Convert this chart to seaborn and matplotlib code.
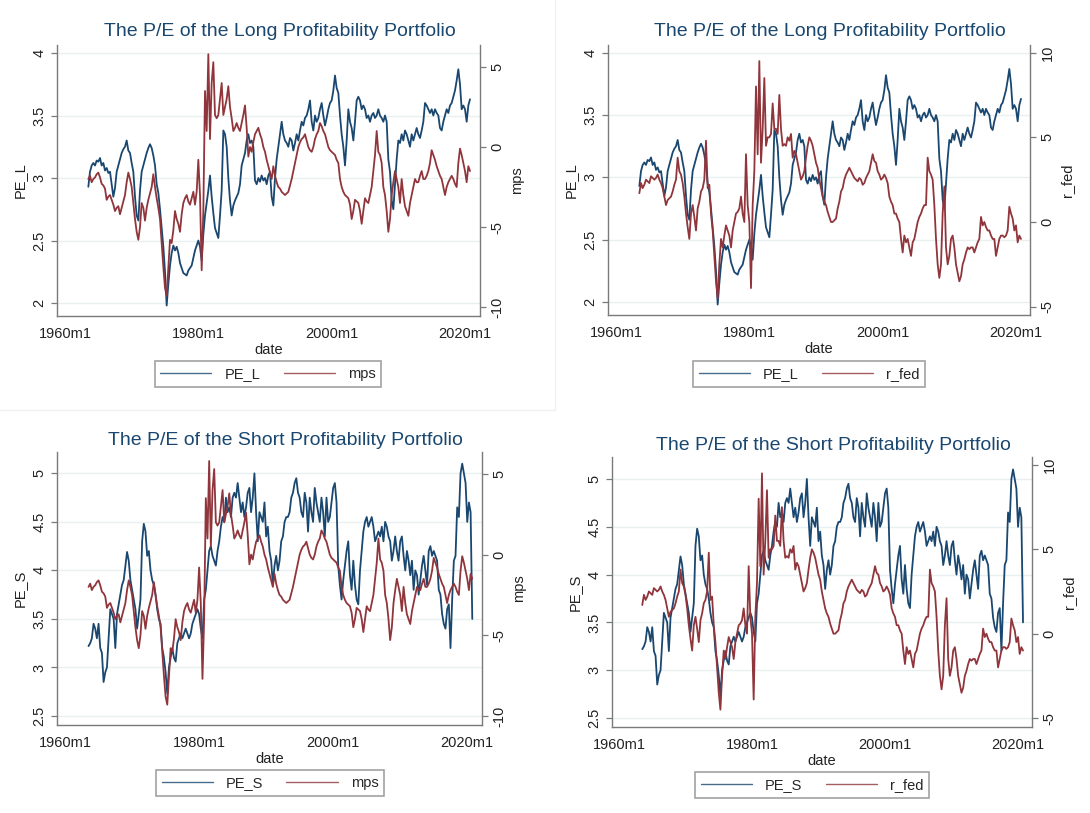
import numpy as np
import pandas as pd
import seaborn as sns
import matplotlib.pyplot as plt
from matplotlib.lines import Line2D

# quarterly dates 1963q3 .. 2020q4
dates = pd.date_range('1963-07-01', '2020-10-01', freq='QS')

PE_L = [2.93, 3.05,
        3.10, 3.12, 3.10, 3.14,   3.13, 3.16, 3.10, 3.12,   3.06, 3.08, 3.04, 3.05,
        2.95, 2.85, 2.92, 3.05,   3.10, 3.15, 3.20, 3.23,   3.25, 3.30, 3.22, 3.20,
        3.12, 3.05, 2.85, 2.70,   2.66, 2.90, 3.05, 3.10,   3.15, 3.20, 3.24, 3.27,
        3.24, 3.18, 3.10, 2.95,   2.88, 2.75, 2.60, 2.45,   2.25, 1.98, 2.15, 2.30,
        2.40, 2.46, 2.42, 2.45,   2.40, 2.32, 2.28, 2.24,   2.23, 2.22, 2.26, 2.28,
        2.30, 2.36, 2.42, 2.46,   2.50, 2.45, 2.34, 2.55,   2.70, 2.80, 2.90, 3.02,
        2.85, 2.72, 2.60, 2.56,   2.52, 2.70, 2.90, 3.38,   3.35, 3.25, 3.00, 2.82,
        2.70, 2.78, 2.82, 2.85,   2.88, 2.95, 3.10, 3.15,   3.20, 3.30, 3.35, 3.28,
        3.30, 3.25, 2.98, 2.95,   3.00, 2.97, 3.02, 2.98,   3.00, 2.95, 3.02, 3.05,
        2.85, 2.78, 3.00, 3.15,   3.25, 3.35, 3.45, 3.35,   3.30, 3.28, 3.25, 3.32,
        3.30, 3.22, 3.28, 3.35,   3.30, 3.38, 3.45, 3.42,   3.48, 3.50, 3.55, 3.62,
        3.45, 3.38, 3.50, 3.45,   3.48, 3.55, 3.60, 3.50,   3.42, 3.48, 3.55, 3.60,
        3.62, 3.70, 3.82, 3.72,   3.68, 3.50, 3.35, 3.25,   3.10, 3.30, 3.55, 3.45,
        3.40, 3.30, 3.45, 3.62,   3.65, 3.62, 3.55, 3.58,   3.55, 3.48, 3.50, 3.45,
        3.50, 3.52, 3.48, 3.50,   3.55, 3.50, 3.48, 3.45,   3.50, 3.45, 3.15, 3.05,
        2.82, 2.75, 2.95, 3.15,   3.30, 3.28, 3.35, 3.30,   3.38, 3.35, 3.30, 3.25,
        3.35, 3.30, 3.35, 3.40,   3.35, 3.32, 3.38, 3.45,   3.60, 3.58, 3.55, 3.52,
        3.55, 3.50, 3.55, 3.52,   3.50, 3.40, 3.38, 3.45,   3.50, 3.55, 3.52, 3.58,
        3.60, 3.65, 3.70, 3.78,   3.87, 3.75, 3.55, 3.58,   3.55, 3.45, 3.58, 3.63]

PE_S = [3.22, 3.25,
        3.30, 3.45, 3.40, 3.30,   3.45, 3.20, 3.15, 2.85,   2.95, 3.00, 3.30, 3.60,
        3.55, 3.50, 3.20, 3.55,   3.65, 3.75, 3.85, 3.90,   4.05, 4.19, 4.10, 3.90,
        3.80, 3.70, 3.60, 3.40,   3.55, 3.70, 4.30, 4.48,   4.40, 4.15, 4.20, 4.00,
        3.90, 3.85, 3.75, 3.60,   3.50, 3.45, 3.20, 3.10,   2.95, 2.73, 3.00, 3.10,
        3.20, 3.10, 3.06, 3.25,   3.30, 3.35, 3.30, 3.35,   3.40, 3.35, 3.30, 3.35,
        3.45, 3.50, 3.55, 3.60,   3.55, 3.40, 3.30, 3.70,   3.80, 4.00, 4.20, 4.25,
        4.15, 4.10, 4.05, 4.20,   4.30, 4.45, 4.55, 4.50,   4.75, 4.60, 4.65, 4.55,
        4.75, 4.80, 4.75, 4.90,   4.75, 4.60, 4.70, 4.55,   4.65, 4.80, 4.85, 4.60,
        4.75, 5.00, 4.60, 4.30,   4.60, 4.55, 4.50, 4.70,   4.35, 4.45, 4.20, 4.10,
        3.85, 4.05, 4.15, 4.00,   4.10, 4.30, 4.35, 4.50,   4.55, 4.55, 4.60, 4.75,
        4.80, 4.90, 4.95, 4.80,   4.75, 4.60, 4.55, 4.80,   4.70, 4.40, 4.75, 4.60,
        4.50, 4.85, 4.70, 4.60,   4.50, 4.75, 4.60, 4.35,   4.75, 4.50, 4.55, 4.70,
        4.85, 4.90, 4.70, 4.05,   3.85, 3.70, 3.90, 4.05,   4.20, 4.30, 3.95, 3.80,
        4.10, 3.85, 3.70, 3.65,   4.00, 4.20, 4.40, 4.50,   4.55, 4.45, 4.50, 4.55,
        4.45, 4.30, 4.35, 4.40,   4.35, 4.45, 4.30, 4.50,   4.45, 4.35, 4.30, 4.10,
        4.20, 4.35, 4.20, 4.10,   4.30, 4.35, 4.15, 4.00,   4.20, 4.10, 3.95, 4.10,
        3.80, 4.00, 3.95, 3.75,   3.90, 4.05, 4.15, 4.00,   3.85, 4.20, 4.25, 4.15,
        4.20, 4.15, 4.10, 3.80,   3.75, 3.55, 3.45, 3.40,   3.60, 3.65, 3.20, 3.70,
        4.10, 4.15, 4.65, 4.55,   5.00, 5.10, 5.00, 4.90,   4.50, 4.70, 4.60, 3.50]

mps = [-2.0, -1.8,
       -2.2, -2.0, -1.9, -1.7,   -1.6, -1.9, -2.3, -2.4,   -2.6, -3.3, -3.1, -3.0,
       -3.3, -3.6, -4.0, -3.8,   -3.7, -4.2, -3.8, -3.4,   -3.0, -2.2, -1.6, -2.0,
       -2.5, -3.5, -4.5, -5.3,   -5.8, -5.0, -3.5, -3.8,   -4.6, -3.8, -3.3, -2.9,
       -2.5, -1.7, -2.5, -3.2,   -3.8, -4.5, -6.0, -7.5,   -8.8, -9.3, -7.5, -5.8,
       -6.0, -5.2, -4.0, -4.5,   -4.8, -5.3, -4.2, -3.5,   -3.2, -3.0, -3.4, -3.6,
       -3.2, -2.8, -3.6, -2.8,   -0.8, -3.0, -7.7, -4.0,    3.5,  1.0,  5.8,  0.5,
        4.0,  5.3,  2.0,  1.8,    2.0,  3.0,  4.0,  2.0,    2.5,  3.0,  3.8,  2.5,
        1.8,  1.0,  1.2,  1.5,    1.2,  1.0,  1.5,  2.0,    2.6,  1.2, -0.6,  0.0,
       -0.3,  0.3,  0.8,  1.0,    1.2,  0.8,  0.5,  0.0,   -0.3, -0.8, -1.2, -1.6,
       -2.0, -1.2, -1.8, -2.2,   -2.5, -2.6, -2.8, -2.9,   -3.0, -2.9, -2.8, -2.4,
       -2.0, -1.5, -1.0, -0.5,    0.0,  0.3,  0.5,  0.6,    0.8,  0.4,  0.0, -0.2,
       -0.3,  0.0,  0.5,  0.8,    1.0,  1.5,  1.3,  1.0,    0.8,  0.4,  0.0, -0.2,
       -0.3, -0.4, -0.5, -0.8,   -1.0, -2.0, -2.5, -2.8,   -3.0, -3.1, -3.2, -3.6,
       -4.5, -4.0, -3.3, -3.4,   -3.5, -4.0, -4.8, -4.0,   -3.2, -3.4, -3.5, -3.0,
       -2.5, -1.5, -0.5,  1.0,   -0.3, -0.5, -1.0, -2.5,   -3.0, -4.0, -5.3, -4.5,
       -3.0, -2.2, -1.5, -2.0,   -2.5, -3.5, -2.0, -3.0,   -3.7, -4.0, -4.3, -3.5,
       -3.0, -2.5, -2.0, -2.2,   -2.2, -1.8, -1.5, -2.0,   -2.0, -1.8, -1.5, -1.0,
       -0.2, -0.5, -0.8, -1.2,   -1.5, -1.8, -2.0, -2.5,   -3.0, -2.5, -2.2, -2.0,
       -1.8, -2.0, -2.3, -2.5,   -1.0, -0.1, -0.5, -1.0,   -1.5, -2.2, -1.2, -1.5]

r_fed = [1.7, 2.3,
         2.0, 2.2, 2.5, 2.4,   2.3, 2.7, 2.6, 2.5,   2.6, 2.8, 2.5, 2.3,
         2.0, 1.5, 1.0, 1.3,   1.4, 1.5, 1.8, 2.2,   2.5, 3.8, 3.0, 2.8,
         2.3, 1.5, 0.5, -0.3,  -1.0, 0.5, 1.0, 0.3,  -0.5, 0.8, 1.2, 1.8,
         2.0, 2.5, 4.8, 2.0,   2.2, 0.5, -0.5, -2.0, -3.5, -4.5, -2.5, -1.0,
        -1.5, -0.8, -0.2, -0.5, -0.8, -1.5, -0.5, 0.0, 0.5, 0.6, 0.8, 1.5,
         0.5, 0.0, 4.0, 1.0,   0.0, -3.9, 1.0, 3.0,  8.0, 4.0, 9.5, 3.5,
         5.5, 8.5, 4.5, 5.0,   5.0, 5.2, 7.0, 5.5,   5.5, 5.2, 7.5, 5.5,
         4.5, 4.6, 4.5, 5.0,   4.8, 5.2, 3.8, 4.2,   4.0, 3.5, 3.0, 2.5,
         2.7, 3.0, 3.8, 4.5,   5.0, 4.8, 4.5, 4.0,   3.5, 3.2, 2.5, 2.0,
         1.5, 1.2, 1.0, 0.6,   0.3, 0.0, 0.0, 0.1,   0.2, 0.8, 1.2, 1.8,
         2.0, 2.5, 2.8, 3.0,   3.2, 3.0, 2.8, 2.6,   2.5, 2.4, 2.6, 2.5,
         2.2, 2.3, 2.6, 2.8,   3.0, 3.5, 4.0, 3.6,   3.5, 3.0, 2.8, 2.5,
         2.6, 2.8, 2.6, 2.3,   1.5, 1.2, 1.0, 0.5,   0.5, 0.2, 0.0, -1.0,
        -1.8, -0.8, -1.2, -1.0, -1.5, -2.0, -1.2, -1.0, -0.5, 0.0, 0.3, 0.5,
         0.8, 1.0, 1.0, 3.8,   3.0, 2.8, 2.5, 1.0,  -1.0, -2.5, -3.3, -2.5,
         0.5, 2.1, -1.5, -2.5, -2.0, -1.0, -0.8, -1.5, -2.5, -3.0, -3.5, -3.2,
        -2.5, -2.2, -1.8, -1.5, -1.6, -1.5, -1.5, -1.8, -1.5, -1.2, -1.0, 0.3,
        -0.2, 0.0, -0.3, -0.5, -0.5, -0.8, -1.0, -1.0, -2.0, -1.5, -1.0, -0.8,
        -0.8, -0.9, -0.8, -0.5,  0.9, 0.5, 0.2, -0.5, -0.2, -1.2, -0.8, -1.0]

df = pd.DataFrame({'date': dates.year + (dates.month - 1) / 12,
                   'PE_L': PE_L, 'PE_S': PE_S, 'mps': mps, 'r_fed': r_fed})

sns.set_style('white')
plt.rcParams['font.family'] = ['Liberation Sans', 'DejaVu Sans']

blue = '#1a476f'
red = '#90353b'
grid_c = '#e8f0f2'
axis_c = '#7a7a7a'

W, H = 1090, 813
fig = plt.figure(figsize=(W / 100, H / 100), dpi=100)

# panel boxes in pixels: left, right, top, bottom
panels = [
    dict(y='PE_L', y2='mps', box=(57, 480, 45, 316), yl=(1.896, 4.064), y2l=(-10.56, 6.375),
         xl=(1958.8, 2022.25), yt=[2, 2.5, 3, 3.5, 4], y2t=[-10, -5, 0, 5],
         title='The P/E of the Long Profitability Portfolio', tpos=(280, 32), lpos=(268, 374)),
    dict(y='PE_L', y2='r_fed', box=(608, 1030, 45, 315), yl=(1.896, 4.062), y2l=(-5.49, 10.45),
         xl=(1958.8, 2022.1), yt=[2, 2.5, 3, 3.5, 4], y2t=[-5, 0, 5, 10],
         title='The P/E of the Long Profitability Portfolio', tpos=(830, 32), lpos=(809, 374)),
    dict(y='PE_S', y2='mps', box=(57, 482, 452, 725), yl=(2.407, 5.22), y2l=(-10.56, 6.36),
         xl=(1958.8, 2022.2), yt=[2.5, 3, 3.5, 4, 4.5, 5], y2t=[-10, -5, 0, 5],
         title='The P/E of the Short Profitability Portfolio', tpos=(285, 440), lpos=(270, 783)),
    dict(y='PE_S', y2='r_fed', box=(612, 1032, 457, 727), yl=(2.406, 5.23), y2l=(-5.53, 10.47),
         xl=(1958.95, 2022.1), yt=[2.5, 3, 3.5, 4, 4.5, 5], y2t=[-5, 0, 5, 10],
         title='The P/E of the Short Profitability Portfolio', tpos=(833, 445), lpos=(812, 785)),
]

def fmt(v):
    return ('%g' % v)

for p in panels:
    l, r, t, b = p['box']
    ax = fig.add_axes([l / W, 1 - b / H, (r - l) / W, (b - t) / H])
    ax2 = ax.twinx()
    sns.lineplot(data=df, x='date', y=p['y'], ax=ax, color=blue, lw=1.3, label=p['y'], legend=False)
    sns.lineplot(data=df, x='date', y=p['y2'], ax=ax2, color=red, lw=1.3, label=p['y2'], legend=False)

    ax.set_xlim(*p['xl'])
    ax.set_ylim(*p['yl'])
    ax2.set_ylim(*p['y2l'])
    ax.set_xticks([1960, 1980, 2000, 2020])
    ax.set_xticklabels(['1960m1', '1980m1', '2000m1', '2020m1'])
    ax.set_yticks(p['yt'])
    ax.set_yticklabels([fmt(v) for v in p['yt']], rotation=90, va='center')
    ax2.set_yticks(p['y2t'])
    ax2.set_yticklabels([fmt(v) for v in p['y2t']], rotation=90, va='center')

    for a in (ax, ax2):
        for s in a.spines.values():
            s.set_visible(False)
        a.tick_params(colors=axis_c, labelcolor='#222222', labelsize=10.5, length=4, width=0.9)
    ax.spines['left'].set_visible(True)
    ax.spines['bottom'].set_visible(True)
    ax2.spines['right'].set_visible(True)
    for s in (ax.spines['left'], ax.spines['bottom'], ax2.spines['right']):
        s.set_color(axis_c)
        s.set_linewidth(1.0)
    ax.tick_params(axis='x', pad=4)

    ax.grid(axis='y', color=grid_c, lw=1.0)
    ax.set_axisbelow(True)
    ax.set_xlabel('date', fontsize=10.5, color='#222222', labelpad=1)
    ax.set_ylabel(p['y'], fontsize=10.5, color='#222222', labelpad=4)
    ax2.set_ylabel(p['y2'], fontsize=10.5, color='#222222', labelpad=4)

    fig.text(p['tpos'][0] / W, 1 - p['tpos'][1] / H, p['title'], color=blue,
             fontsize=14, ha='center', va='center')

    h1, l1 = ax.get_legend_handles_labels()
    h2, l2 = ax2.get_legend_handles_labels()
    h = [Line2D([], [], color=blue, lw=1.0, alpha=0.8), Line2D([], [], color=red, lw=1.0, alpha=0.8)]
    leg = fig.legend(h, l1 + l2, loc='center',
                     bbox_to_anchor=(p['lpos'][0] / W, 1 - p['lpos'][1] / H),
                     ncol=2, fontsize=10.5, handlelength=3.5, columnspacing=1.6,
                     handletextpad=0.9, frameon=True, fancybox=False,
                     borderpad=0.4, edgecolor='#8a8a8a')
    leg.get_frame().set_linewidth(1.2)

# faint frame lines between the screenshots
fig.add_artist(Line2D([0, 555 / W], [1 - 410 / H, 1 - 410 / H], color='#f0f0f0', lw=1))
fig.add_artist(Line2D([555 / W, 555 / W], [1 - 410 / H, 1], color='#f0f0f0', lw=1))

fig.savefig('out.png', dpi=100, facecolor='white')
